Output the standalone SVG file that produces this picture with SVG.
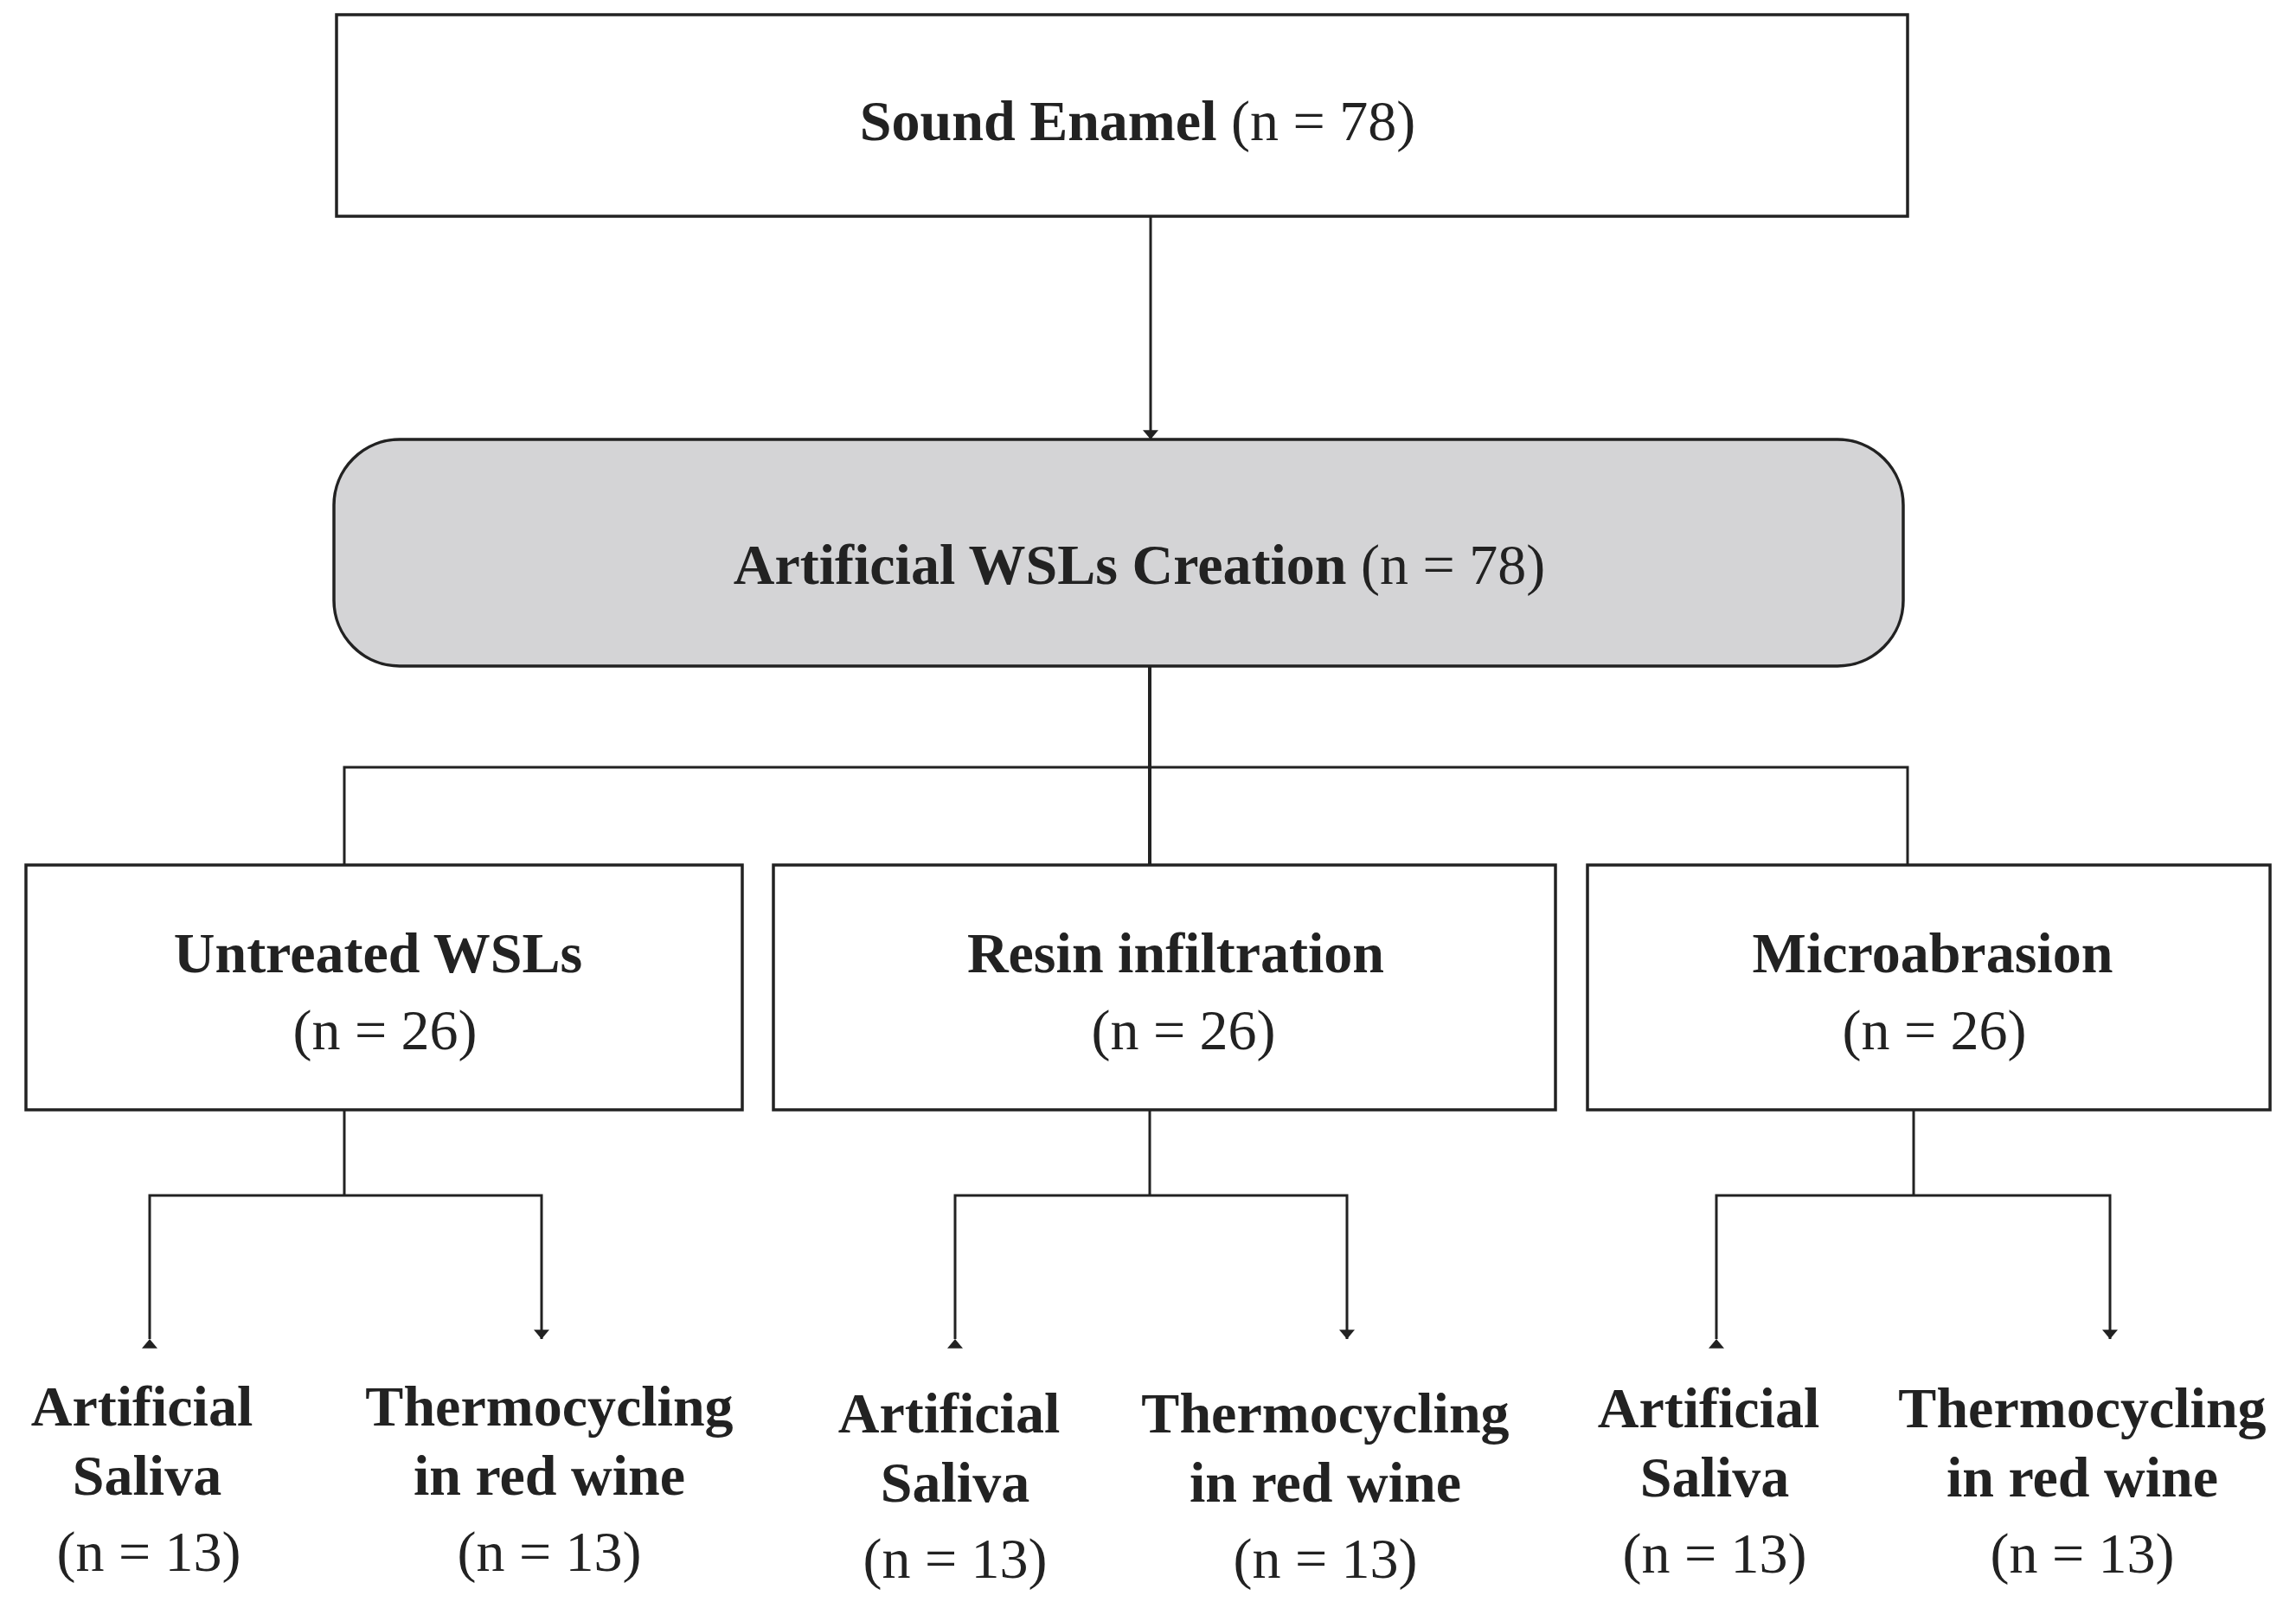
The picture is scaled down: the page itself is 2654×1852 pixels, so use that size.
<svg xmlns="http://www.w3.org/2000/svg" width="2654" height="1852" viewBox="0 0 2654 1852">
<style>
.b{fill:#fff;stroke:#222;stroke-width:3.5}
text{font-family:"Liberation Serif","Times New Roman",serif;font-size:66px;fill:#222;text-anchor:middle}
.t{font-weight:bold}
.l{stroke:#222;stroke-width:3;fill:none}
</style>
<defs><marker id="a" viewBox="0 0 30 18" refX="15" refY="18" markerWidth="30" markerHeight="18" markerUnits="userSpaceOnUse" orient="auto-start-reverse"><path d="M0,0 L30,0 L15,18 Z" fill="#222" transform="rotate(0)"/></marker>
<marker id="d" viewBox="0 0 30 18" refX="18" refY="15" markerWidth="18" markerHeight="30" markerUnits="userSpaceOnUse" orient="auto"><path d="M0,0 L18,15 L0,30 Z" fill="#222"/></marker></defs>
<g id="connectors">
<line class="l" x1="1330" y1="250" x2="1330" y2="508" marker-end="url(#d)"/>
<line class="l" x1="1329" y1="770" x2="1329" y2="1000" style="stroke-width:4"/>
<polyline class="l" points="398,1000 398,887 2205,887 2205,1000"/>
<line class="l" x1="398" y1="1283" x2="398" y2="1382"/>
<line class="l" x1="1329" y1="1283" x2="1329" y2="1382"/>
<line class="l" x1="2212" y1="1283" x2="2212" y2="1382"/>
<polyline class="l" points="173,1548 173,1382 626,1382 626,1548" marker-start="url(#d)" marker-end="url(#d)"/>
<polyline class="l" points="1104,1548 1104,1382 1557,1382 1557,1548" marker-start="url(#d)" marker-end="url(#d)"/>
<polyline class="l" points="1984,1548 1984,1382 2439,1382 2439,1548" marker-start="url(#d)" marker-end="url(#d)"/>
</g>
<g id="sound"><rect class="b" x="389" y="17" width="1816" height="233"/><text x="1315" y="162"><tspan class="t">Sound Enamel</tspan> (n = 78)</text></g>
<g id="wsl"><rect class="b" x="386" y="508" width="1814" height="262" rx="76" style="fill:#d4d4d6"/><text x="1317" y="675"><tspan class="t">Artificial WSLs Creation</tspan> (n = 78)</text></g>
<g id="untreated"><rect class="b" x="30" y="1000" width="828" height="283"/><text class="t" x="437" y="1124">Untreated WSLs</text><text x="445" y="1213">(n = 26)</text></g>
<g id="resin"><rect class="b" x="894" y="1000" width="904" height="283"/><text class="t" x="1359" y="1124">Resin infiltration</text><text x="1368" y="1213">(n = 26)</text></g>
<g id="micro"><rect class="b" x="1835" y="1000" width="789" height="283"/><text class="t" x="2234" y="1124">Microabrasion</text><text x="2236" y="1213">(n = 26)</text></g>
<g id="u1"><text class="t" x="164" y="1648">Artificial</text><text class="t" x="170" y="1728">Saliva</text><text x="172" y="1816">(n = 13)</text></g>
<g id="u2"><text class="t" x="635" y="1648">Thermocycling</text><text class="t" x="635" y="1728">in red wine</text><text x="635" y="1816">(n = 13)</text></g>
<g id="r1"><text class="t" x="1097" y="1656">Artificial</text><text class="t" x="1104" y="1736">Saliva</text><text x="1104" y="1824">(n = 13)</text></g>
<g id="r2"><text class="t" x="1532" y="1656">Thermocycling</text><text class="t" x="1532" y="1736">in red wine</text><text x="1532" y="1824">(n = 13)</text></g>
<g id="m1"><text class="t" x="1975" y="1650">Artificial</text><text class="t" x="1982" y="1730">Saliva</text><text x="1982" y="1818">(n = 13)</text></g>
<g id="m2"><text class="t" x="2407" y="1650">Thermocycling</text><text class="t" x="2407" y="1730">in red wine</text><text x="2407" y="1818">(n = 13)</text></g>
</svg>
